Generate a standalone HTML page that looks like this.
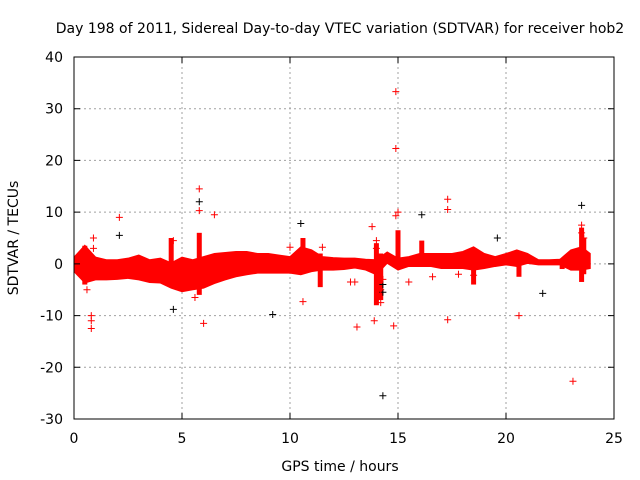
<!DOCTYPE html>
<html><head><meta charset="utf-8"><style>
body{margin:0;background:#fff}
svg{display:block;font-family:"DejaVu Sans","Liberation Sans",sans-serif}
</style></head><body>
<svg id="c" width="640" height="480"></svg>
<script>
const xTicks=[0,5,10,15,20,25];
const yTicks=[-30,-20,-10,0,10,20,30,40];
const bandHours=[0,0.5,1,1.5,2,2.5,3,3.5,4,4.5,5,5.5,6,6.5,7,7.5,8,8.5,9,9.5,10,10.5,11,11.5,12,12.5,13,13.5,14,14.5,15,15.5,16,16.5,17,17.5,18,18.5,19,19.5,20,20.5,21,21.5,22,22.5,23,23.5,23.9];
const bandHigh=[1.3,3.6,1.3,0.8,0.8,1.1,1.7,0.8,1.1,0.2,1.3,0.8,1.4,2.0,2.2,2.4,2.4,2.0,2.0,1.7,1.4,3.3,2.7,1.4,1.2,1.1,1.1,0.9,0.8,2.3,1.1,1.4,2.0,2.0,2.0,2.0,2.4,3.3,2.0,1.4,2.0,2.7,2.0,0.8,0.8,0.9,2.7,3.3,2.0];
const bandLow=[-1.5,-3.7,-3.1,-3.1,-3.0,-2.8,-3.1,-3.6,-3.7,-4.7,-5.4,-5.0,-4.7,-3.8,-3.1,-2.5,-2.1,-1.8,-1.8,-1.8,-1.8,-2.1,-1.5,-1.2,-1.2,-1.1,-0.8,-1.2,-2.1,0.1,-1.2,-0.5,-0.5,-0.5,-0.9,-0.9,-0.9,-1.2,-0.9,-0.5,-0.2,-0.5,0.1,-0.2,-0.2,-0.2,-1.2,-1.2,-0.9];
const spikeHours=[0.5,4.5,5.8,10.6,11.4,14.0,14.2,15.0,16.1,18.5,20.6,22.6,23.5,23.6];
const spikeLow=[-4,-4,-6,-1,-4.5,-8,-7,-1,0,-4,-2.5,-1,-3.5,-2];
const spikeHigh=[3.5,5,6,5,2,4,2,6.5,4.5,3,2,1,7,5];
const outX=[0.8,0.8,0.8,0.9,0.9,0.6,2.1,4.6,5.1,5.6,5.8,5.8,6.0,6.5,10.0,10.6,11.5,13.1,13.8,13.9,14.2,14.2,14.8,14.9,14.9,15.0,14.9,15.5,17.3,17.3,17.3,18.5,20.6,23.1,23.5,23.5,23.6,14.0,14.0,12.8,13.0,14.3,16.6,17.8];
const outY=[-10,-11,-12.5,5,3,-5,9,4.5,-3,-6.5,14.5,10.3,-11.5,9.5,3.2,-7.3,3.2,-12.2,7.2,-11,-7.5,-5,-12,33.3,22.3,10,9.3,-3.5,12.5,10.5,-10.8,-2.2,-10,-22.7,7.5,6,5,4.5,3,-3.5,-3.5,-3,-2.5,-2];
const blkX=[2.1,4.6,5.8,9.2,10.5,14.3,16.1,19.6,21.7,23.5,14.3,14.3];
const blkY=[5.5,-8.8,12,-9.8,7.8,-25.5,9.5,5,-5.7,11.3,-4,-5.5];

const NS="http://www.w3.org/2000/svg",svg=document.getElementById('c');
const L=74,R=614,T=57,B=419;
const sx=v=>L+(v-0)/25*(R-L), sy=v=>B-(v+30)/70*(B-T);
function mk(t,a,p){const e=document.createElementNS(NS,t);for(const k in a)e.setAttribute(k,a[k]);(p||svg).appendChild(e);return e;}
xTicks.forEach(v=>{if(v>0&&v<25){const g=mk('line',{x1:sx(v),x2:sx(v),y1:T,y2:B,stroke:'#a0a0a0','stroke-dasharray':'2,3'});

}});
yTicks.forEach(v=>{if(v>-30&&v<40){const g=mk('line',{x1:L,x2:R,y1:sy(v),y2:sy(v),stroke:'#a0a0a0','stroke-dasharray':'2,3'});

}});
let pts=[];bandHours.forEach((h,i)=>pts.push(sx(h)+','+sy(bandHigh[i])));
for(let i=bandHours.length-1;i>=0;i--)pts.push(sx(bandHours[i])+','+sy(bandLow[i]));
const band=mk('polygon',{points:pts.join(' '),fill:'#ff0000',stroke:'#ff0000','stroke-width':1});


function plus(x,y,col,name){const p=mk('path',{d:`M${x-3.5},${y}h7M${x},${y-3.5}v7`,stroke:col,'stroke-width':1,fill:'none'});

}
spikeHours.forEach((h,i)=>{const r=mk('rect',{x:sx(h)-2.5,y:sy(spikeHigh[i]),width:5,height:sy(spikeLow[i])-sy(spikeHigh[i]),fill:'#ff0000'});

});
blkX.forEach((h,i)=>plus(sx(h),sy(blkY[i]),'#000','black-point'));
outX.forEach((h,i)=>plus(sx(h),sy(outY[i]),'#ff0000','red-point'));
const f=mk('rect',{x:L,y:T,width:R-L,height:B-T,fill:'none',stroke:'#000'});


xTicks.forEach(v=>{const x=sx(v);mk('path',{d:`M${x},${B}v-6M${x},${T}v6`,stroke:'#000'});
const t=mk('text',{x:x,y:443,'text-anchor':'middle','font-size':14,fill:'#000'});t.textContent=v;

});
yTicks.forEach(v=>{const y=sy(v);mk('path',{d:`M${L},${y}h6M${R},${y}h-6`,stroke:'#000'});
const t=mk('text',{x:63,y:y+5,'text-anchor':'end','font-size':14,fill:'#000'});t.textContent=v;

});
const ti=mk('text',{x:340,y:33,'text-anchor':'middle','font-size':14});ti.textContent='Day 198 of 2011, Sidereal Day-to-day VTEC variation (SDTVAR) for receiver hob2';


const xl=mk('text',{x:340,y:471,'text-anchor':'middle','font-size':14});xl.textContent='GPS time / hours';


const yl=mk('text',{x:0,y:0,'text-anchor':'middle','font-size':14,transform:'translate(18,238) rotate(-90)'});yl.textContent='SDTVAR / TECUs';


</script>
</body></html>
